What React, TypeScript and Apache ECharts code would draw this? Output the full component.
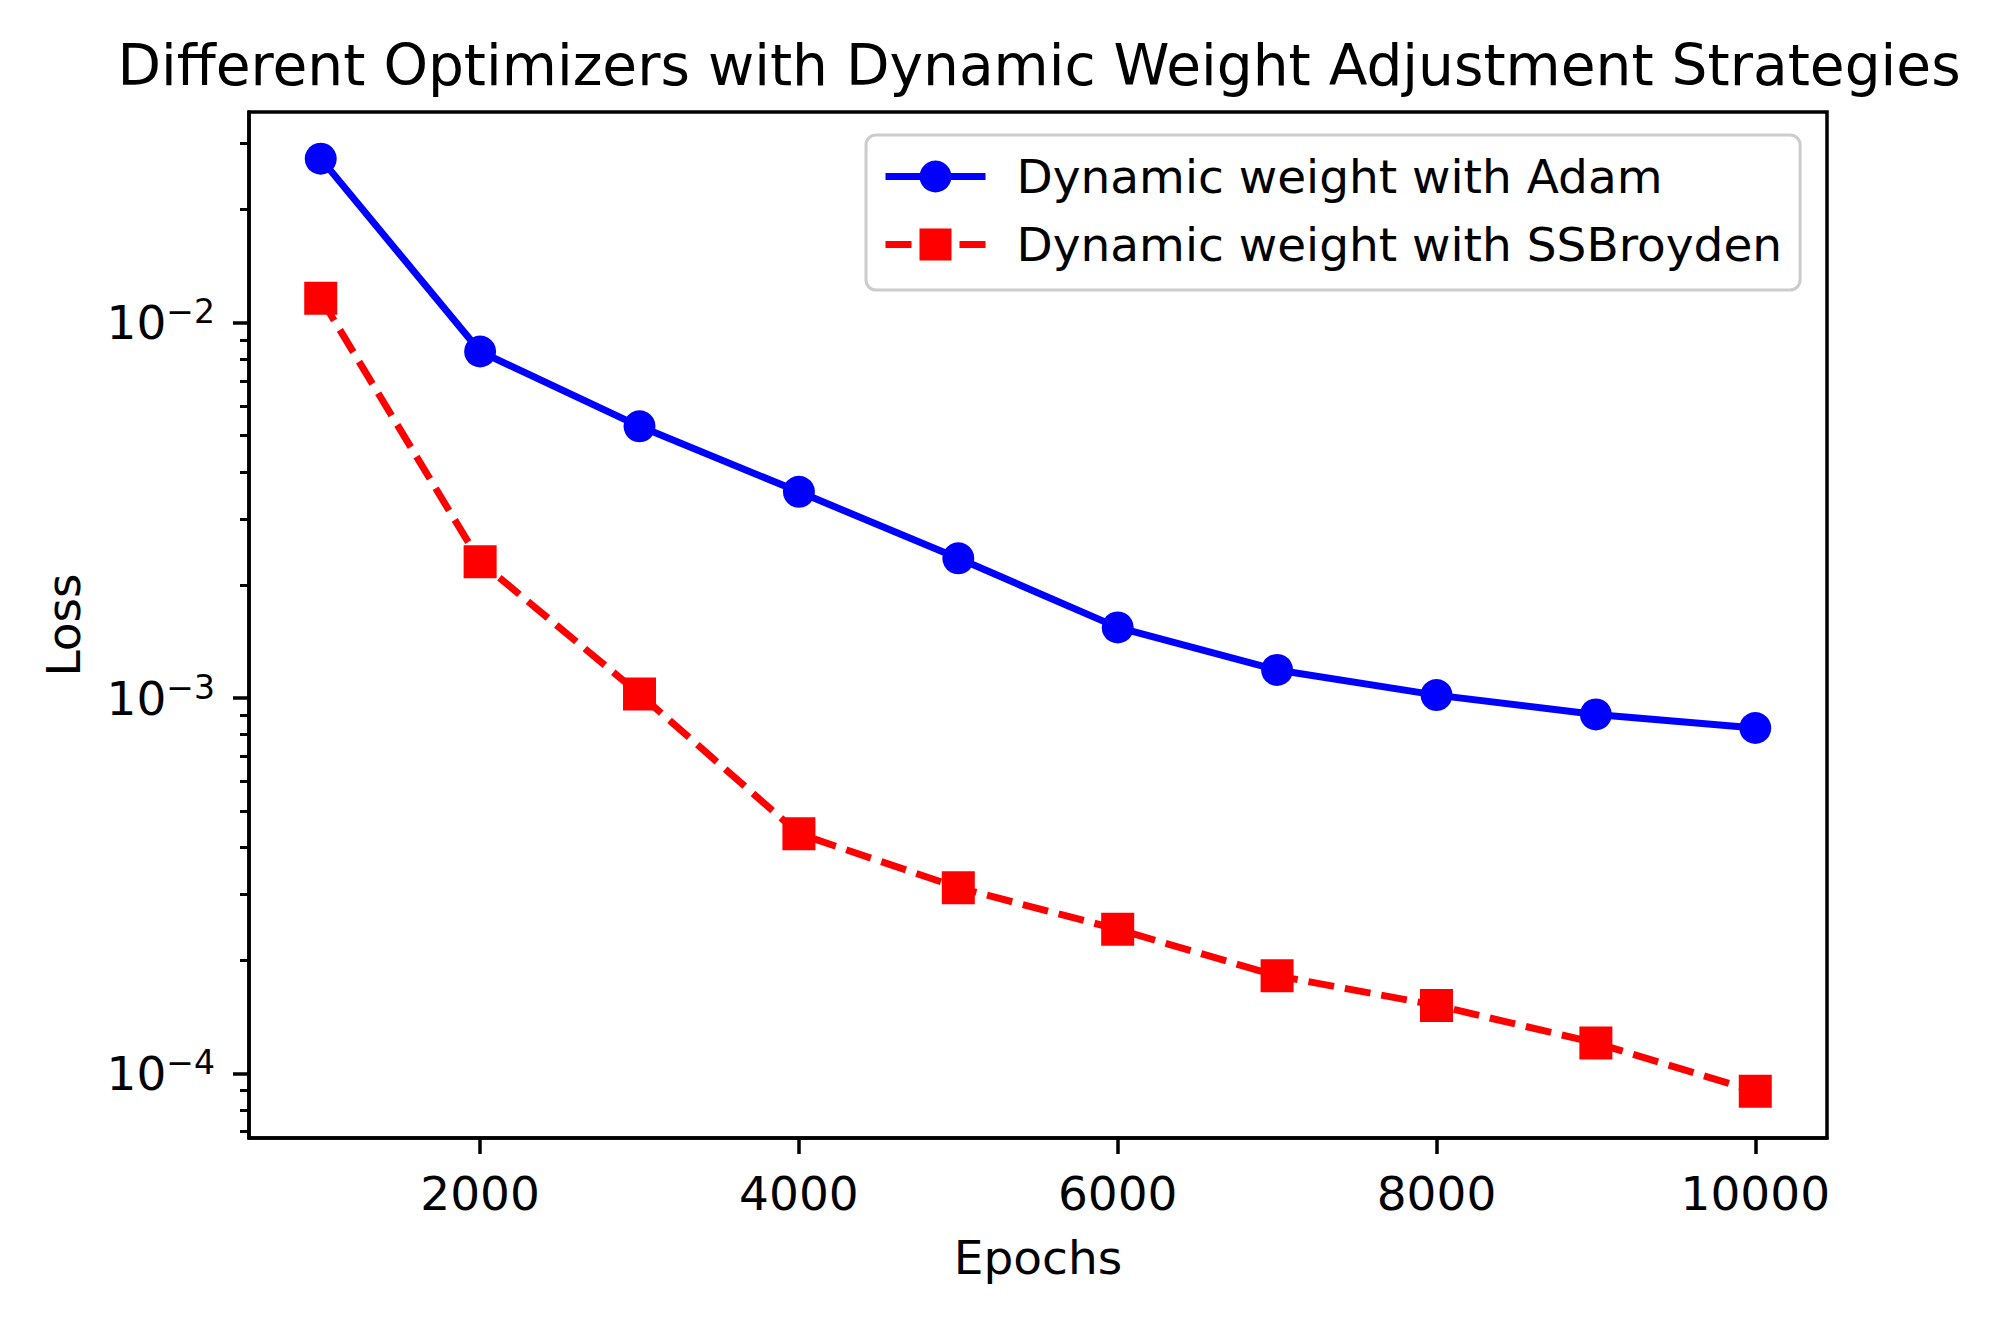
import React, { useEffect, useRef } from "react";
import * as echarts from "echarts";

const epochs = [1000, 2000, 3000, 4000, 5000, 6000, 7000, 8000, 9000, 10000];
const adamLoss = [0.02734, 0.008375, 0.005293, 0.003542, 0.002356, 0.001542, 0.001188, 0.001018, 0.000904, 0.000832];
const ssbLoss = [0.01161, 0.002306, 0.001025, 0.000435, 0.0003125, 0.000242, 0.000182, 0.0001518, 0.0001205, 0.0000896];
const xTicks = [2000, 4000, 6000, 8000, 10000];
const yMajorTicks = [1e-4, 1e-3, 1e-2];
const yMinorTicks = [
  7e-5, 8e-5, 9e-5,
  2e-4, 3e-4, 4e-4, 5e-4, 6e-4, 7e-4, 8e-4, 9e-4,
  2e-3, 3e-3, 4e-3, 5e-3, 6e-3, 7e-3, 8e-3, 9e-3,
  2e-2, 3e-2,
];
const seriesNames = ["Dynamic weight with Adam", "Dynamic weight with SSBroyden"];
const titleText = "Different Optimizers with Dynamic Weight Adjustment Strategies";

const FONT = "DejaVu Sans";
const Y_MIN = Math.pow(10, -4.172);
const Y_MAX = Math.pow(10, -1.439);

export default function App() {
  const ref = useRef<HTMLDivElement>(null);
  useEffect(() => {
    if (!ref.current) return;
    const chart = echarts.init(ref.current, null, { renderer: "svg" });
    const axisLine = { show: true, lineStyle: { color: "#000", width: 3.5 } };
    chart.setOption({
      animation: false,
      backgroundColor: "#fff",
      title: {
        text: titleText,
        left: 1034,
        textAlign: "center",
        top: 31,
        textStyle: { fontFamily: FONT, fontSize: 56.6, fontWeight: "normal", color: "#000" },
      },
      grid: {
        left: 249,
        top: 112,
        width: 1578,
        height: 1026,
        show: true,
        borderColor: "#000",
        borderWidth: 3.5,
        backgroundColor: "transparent",
      },
      legend: {
        orient: "vertical",
        left: 866,
        top: 135,
        data: seriesNames,
        itemWidth: 100,
        itemHeight: 40,
        itemGap: 21,
        padding: [18, 18, 22, 16],
        backgroundColor: "rgba(255,255,255,0.8)",
        borderColor: "#cccccc",
        borderWidth: 3,
        borderRadius: 10,
        lineStyle: { width: 7, type: "inherit" },
        textStyle: { fontFamily: FONT, fontSize: 47, color: "#000", padding: [0, 0, 0, 26] },
      },
      xAxis: {
        type: "value",
        min: 550,
        max: 10450,
        name: "Epochs",
        nameLocation: "middle",
        nameGap: 96,
        nameTextStyle: { fontFamily: FONT, fontSize: 47, color: "#000" },
        axisLine,
        axisTick: { show: true, inside: false, length: 16, lineStyle: { color: "#000", width: 3.5 }, customValues: xTicks },
        axisLabel: {
          show: true,
          margin: 32,
          fontFamily: FONT,
          fontSize: 47,
          color: "#000",
          customValues: xTicks,
          formatter: (v: number) => String(v),
        },
        splitLine: { show: false },
      },
      yAxis: [
        {
          type: "log",
          logBase: 10,
          min: Y_MIN,
          max: Y_MAX,
          name: "Loss",
          nameLocation: "middle",
          nameRotate: 90,
          nameGap: 162,
          nameTextStyle: { fontFamily: FONT, fontSize: 47, color: "#000" },
          axisLine,
          axisTick: { show: true, inside: false, length: 16, lineStyle: { color: "#000", width: 3.5 }, customValues: yMajorTicks },
          axisLabel: {
            show: true,
            margin: 34,
            customValues: yMajorTicks,
            formatter: (v: number) => `{b|10}{s|\u2212${Math.abs(Math.round(Math.log10(v)))}}`,
            rich: {
              b: { fontFamily: FONT, fontSize: 47, color: "#000" },
              s: { fontFamily: FONT, fontSize: 33, color: "#000", padding: [0, 0, 22, 0] },
            },
          },
          splitLine: { show: false },
          minorTick: { show: false },
        },
        {
          type: "log",
          logBase: 10,
          min: Y_MIN,
          max: Y_MAX,
          position: "left",
          axisLine: { show: false },
          axisTick: { show: true, inside: false, length: 9, lineStyle: { color: "#000", width: 3 }, customValues: yMinorTicks },
          axisLabel: { show: false },
          splitLine: { show: false },
        },
      ],
      series: [
        {
          name: seriesNames[0],
          type: "line",
          data: epochs.map((e, i) => [e, adamLoss[i]]),
          symbol: "circle",
          symbolSize: 32,
          lineStyle: { color: "#0000ff", width: 7 },
          itemStyle: { color: "#0000ff" },
          z: 3,
        },
        {
          name: seriesNames[1],
          type: "line",
          data: epochs.map((e, i) => [e, ssbLoss[i]]),
          symbol: "rect",
          symbolSize: 33,
          lineStyle: { color: "#ff0000", width: 7, type: [26, 11] },
          itemStyle: { color: "#ff0000" },
          z: 4,
        },
      ],
    });
    return () => chart.dispose();
  }, []);
  return <div ref={ref} style={{ position: "absolute", left: 0, top: 0, width: 2000, height: 1326 }} />;
}
